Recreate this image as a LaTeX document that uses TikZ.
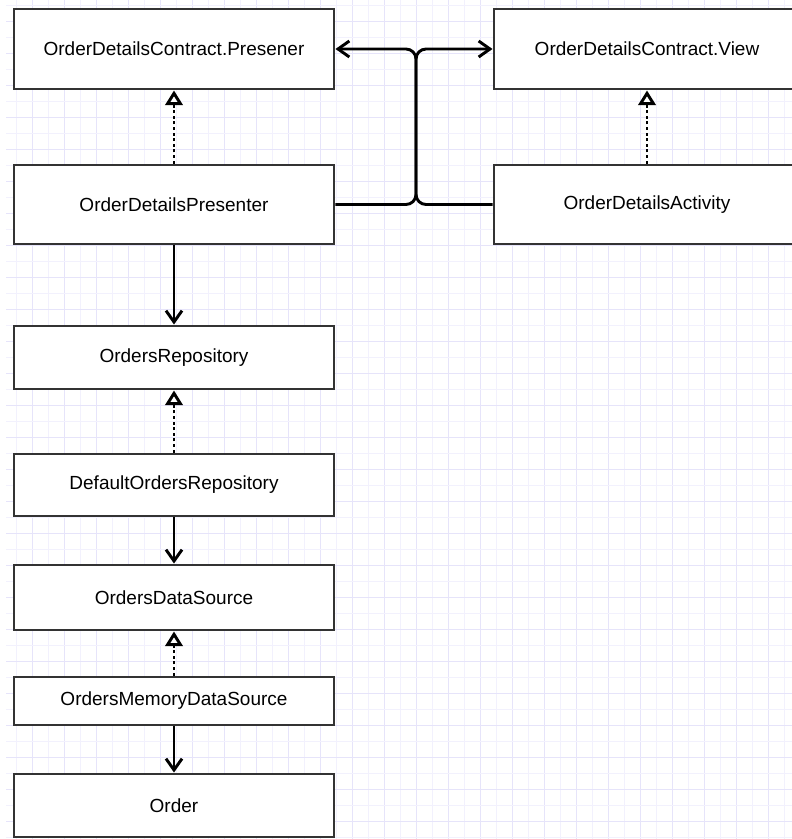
\documentclass[tikz,border=0pt]{standalone}
\usepackage{fontspec}
\setmainfont{Liberation Sans}
\usetikzlibrary{arrows.meta}
\definecolor{boxc}{HTML}{333333}
\definecolor{gridlight}{HTML}{F2F1FD}
\definecolor{griddark}{HTML}{E6E4FA}
\begin{document}
\begin{tikzpicture}[x=0.75pt,y=-0.75pt,
  box/.style={draw=boxc, line width=2.2pt, fill=white, inner sep=0pt,
    font=\fontsize{14.25pt}{17pt}\selectfont, text=black},
  solidarr/.style={draw=black, line width=2.2pt,
    -{Straight Barb[length=8.5pt,width=12pt,line width=2.2pt]}},
  realize/.style={draw=black, line width=2.2pt, dash pattern=on 2.2pt off 2pt,
    -{Triangle[length=11pt,width=13pt,line width=2.2pt,fill=white]}}]
\useasboundingbox (0,0) rectangle (792,839);
\clip (0,0) rectangle (792,839);
\fill[white] (0,0) rectangle (792,839);
% grid
\foreach \k in {1,...,49}{
  \pgfmathsetmacro{\xx}{16*\k}
  \ifodd\k \def\gc{gridlight}\else \def\gc{griddark}\fi
  \draw[\gc, line width=0.75pt] (\xx,0) -- (\xx,839);
}
\foreach \k in {0,...,52}{
  \pgfmathsetmacro{\yy}{5+16*\k}
  \ifodd\k \def\gc{griddark}\else \def\gc{gridlight}\fi
  \draw[\gc, line width=0.75pt] (6,\yy) -- (792,\yy);
}
% boxes
\node[box, minimum width=240pt, minimum height=60pt] (pres) at (174,49) {OrderDetailsContract.Presener};
\node[box, minimum width=229.5pt, minimum height=60pt] (view) at (647,49) {OrderDetailsContract.View};
\node[box, minimum width=240pt, minimum height=59.25pt] (presenter) at (174,204.5) {OrderDetailsPresenter};
\node[box, minimum width=229.5pt, minimum height=59.25pt] (activity) at (647,204.5) {OrderDetailsActivity};
\node[box, minimum width=240pt, minimum height=47.25pt] (repo) at (174,357.5) {OrdersRepository};
\node[box, minimum width=240pt, minimum height=46.5pt] (defrepo) at (174,485) {DefaultOrdersRepository};
\node[box, minimum width=240pt, minimum height=48.75pt] (ds) at (174,597.5) {OrdersDataSource};
\node[box, minimum width=240pt, minimum height=36pt] (mem) at (174,701) {OrdersMemoryDataSource};
\node[box, minimum width=240pt, minimum height=47.25pt] (order) at (174,805.5) {Order};
% connectors
\coordinate (jb) at (416,204.5);
\coordinate (jt) at (416,49);
\draw[solidarr, rounded corners=7.5pt] (presenter.east) -- (jb) -- (jt) -- (view.west);
\draw[solidarr, rounded corners=7.5pt] (activity.west) -- (jb) -- (jt) -- (pres.east);
\draw[realize] (presenter.north) -- (pres.south);
\draw[realize] (activity.north) -- (view.south);
\draw[solidarr] (presenter.south) -- (repo.north);
\draw[realize] (defrepo.north) -- (repo.south);
\draw[solidarr] (defrepo.south) -- (ds.north);
\draw[realize] (mem.north) -- (ds.south);
\draw[solidarr] (mem.south) -- (order.north);
\end{tikzpicture}
\end{document}
